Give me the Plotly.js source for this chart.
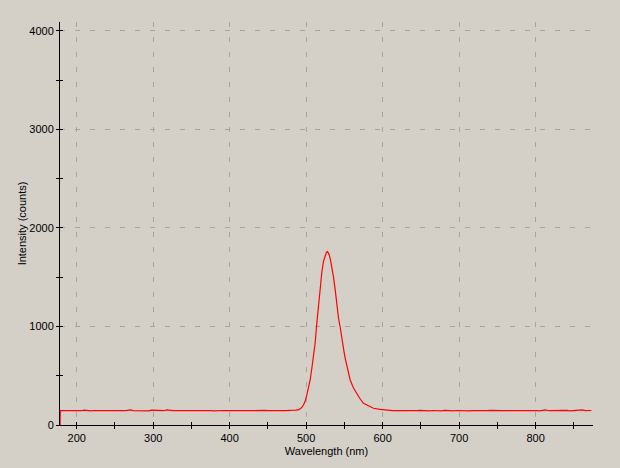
<!DOCTYPE html>
<html>
<head>
<meta charset="utf-8">
<script src="https://cdn.plot.ly/plotly-3.0.1.min.js"></script>
<style>
html,body{margin:0;padding:0;background:#d4d0c8;}
#chart{width:620px;height:468px;}
</style>
</head>
<body>
<div id="chart"></div>
<script>
// Wavelength (nm)
const wavelength = [
  178.2, 178.5,
  182, 186, 190, 194, 198, 202, 206, 210, 214, 218, 222, 226, 230, 234, 238, 242, 246, 250,
  254, 258, 262, 266, 270, 274, 278, 282, 286, 290, 294, 298, 302, 306, 310, 314, 318, 322,
  326, 330, 334, 338, 342, 346, 350, 354, 358, 362, 366, 370, 374, 378, 382, 386, 390, 394,
  398, 402, 406, 410, 414, 418, 422, 426, 430, 434, 438, 442, 446, 450, 454, 458, 462, 466,
  470, 474, 478, 482, 486, 490,
  492, 494, 496.5, 498.7, 500.9, 503, 505.3, 507.5, 509.6, 511.8, 514.0, 516.1, 518.3, 520.6,
  522.6, 524.9, 526.5, 527.9, 529.5, 531.4, 533.6, 535.7, 538.0, 540.2, 542.3, 544.5, 546.7,
  548.8, 551.0, 553.3, 555.4, 557.6, 561.9, 566.3, 570.7, 575.0, 581.5, 588.1, 596.8, 605.6,
  609, 613, 617, 621, 625, 629, 633, 637, 641, 645, 649, 653, 657, 661, 665, 669, 673, 677,
  681, 685, 689, 693, 697, 701, 705, 709, 713, 717, 721, 725, 729, 733, 737, 741, 745, 749,
  753, 757, 761, 765, 769, 773, 777, 781, 785, 789, 793, 797, 801, 805, 809, 813, 817, 821,
  825, 829, 833, 837, 841, 845, 849, 853, 857, 861, 865, 869, 873
];
// Intensity (counts)
const intensity = [
  0, 146,
  146, 145, 147, 144, 148, 146, 145, 150, 146, 144, 147, 146, 149, 145, 146, 148, 144, 146,
  147, 145, 146, 149, 153, 146, 145, 147, 148, 146, 144, 150, 147, 146, 148, 145, 154, 147,
  146, 145, 147, 146, 144, 147, 145, 146, 148, 149, 145, 146, 147, 144, 146, 148, 145, 147,
  146, 144, 148, 146, 145, 147, 150, 146, 145, 147, 146, 144, 148, 146, 145, 147, 149, 146,
  145, 146, 148, 147, 150, 153,
  160, 175, 203, 240, 305, 375, 457, 579, 693, 832, 1036, 1218, 1404, 1556,
  1658, 1726, 1752, 1760, 1740, 1695, 1607, 1506, 1371, 1201, 1086, 995, 863,
  777, 680, 599, 508, 457, 376, 315, 264, 220, 193, 170, 159, 150,
  148, 146, 147, 145, 144, 146, 145, 147, 144, 146, 148, 145, 146, 144, 147, 145, 146, 144,
  148, 145, 146, 144, 147, 145, 146, 148, 144, 146, 145, 147, 144, 146, 145, 148, 146, 144,
  147, 145, 146, 144, 148, 145, 146, 147, 144, 146, 145, 148, 146, 144, 147, 153, 145, 146,
  144, 147, 145, 146, 148, 144, 146, 145, 147, 154, 146, 145, 147
];
const xRange = [178.15, 875.1];
const yRange = [0, 4091];
const xTitle = 'Wavelength (nm)';
const yTitle = 'Intensity (counts)';

const fontFam = 'Liberation Sans, Arial, sans-serif';

const traces = [
  {
    x: wavelength, y: intensity, type: 'scatter', mode: 'lines',
    line: {color: '#ff0000', width: 1.2},
    hoverinfo: 'skip', showlegend: false
  },
  {
    x: [xRange[0]], y: [yRange[1]], type: 'scatter', mode: 'markers',
    marker: {opacity: 0}, xaxis: 'x2', yaxis: 'y2',
    hoverinfo: 'skip', showlegend: false
  }
];

const axisCommon = {
  showline: true, linecolor: '#000000', linewidth: 1,
  zeroline: false, ticklen: 3, tickwidth: 1, tickcolor: '#000000',
  tickfont: {family: fontFam, size: 11, color: '#000000'}
};

const layout = {
  width: 620, height: 468,
  paper_bgcolor: '#d4d0c8', plot_bgcolor: '#d4d0c8',
  margin: {l: 60, r: 27, t: 22, b: 43},
  showlegend: false,
  font: {family: fontFam, size: 11, color: '#000000'},
  xaxis: Object.assign({}, axisCommon, {
    range: xRange, tick0: 0, dtick: 100, ticks: 'outside',
    showgrid: true, gridcolor: '#a4a4a4', gridwidth: 1, griddash: '5px,10px',
    minor: {dtick: 50, tick0: 0, ticks: 'outside', ticklen: 3, tickcolor: '#000000', showgrid: false},
    title: {text: xTitle, font: {family: fontFam, size: 11, color: '#000000'}, standoff: 4},
    automargin: false
  }),
  yaxis: Object.assign({}, axisCommon, {
    range: yRange, tick0: 0, dtick: 1000, ticks: 'outside',
    showgrid: true, gridcolor: '#a4a4a4', gridwidth: 1, griddash: '5px,10px',
    minor: {dtick: 500, tick0: 0, ticks: 'outside', ticklen: 3, tickcolor: '#000000', showgrid: false},
    title: {text: yTitle, font: {family: fontFam, size: 11, color: '#000000'}, standoff: 0},
    automargin: false
  }),
  xaxis2: {
    overlaying: 'x', side: 'bottom', anchor: 'y2', range: xRange,
    showline: false, zeroline: false, showgrid: false, showticklabels: false,
    tick0: 0, dtick: 100, ticks: 'inside', ticklen: 3, tickwidth: 1, tickcolor: '#000000',
    minor: {dtick: 50, tick0: 0, ticks: 'inside', ticklen: 3, tickcolor: '#000000', showgrid: false}
  },
  yaxis2: {
    overlaying: 'y', side: 'left', anchor: 'x2', range: yRange,
    showline: false, zeroline: false, showgrid: false, showticklabels: false,
    tick0: 0, dtick: 1000, ticks: 'inside', ticklen: 3, tickwidth: 1, tickcolor: '#000000',
    minor: {dtick: 500, tick0: 0, ticks: 'inside', ticklen: 3, tickcolor: '#000000', showgrid: false}
  }
};

Plotly.newPlot('chart', traces, layout, {staticPlot: true, displayModeBar: false});
</script>
</body>
</html>
